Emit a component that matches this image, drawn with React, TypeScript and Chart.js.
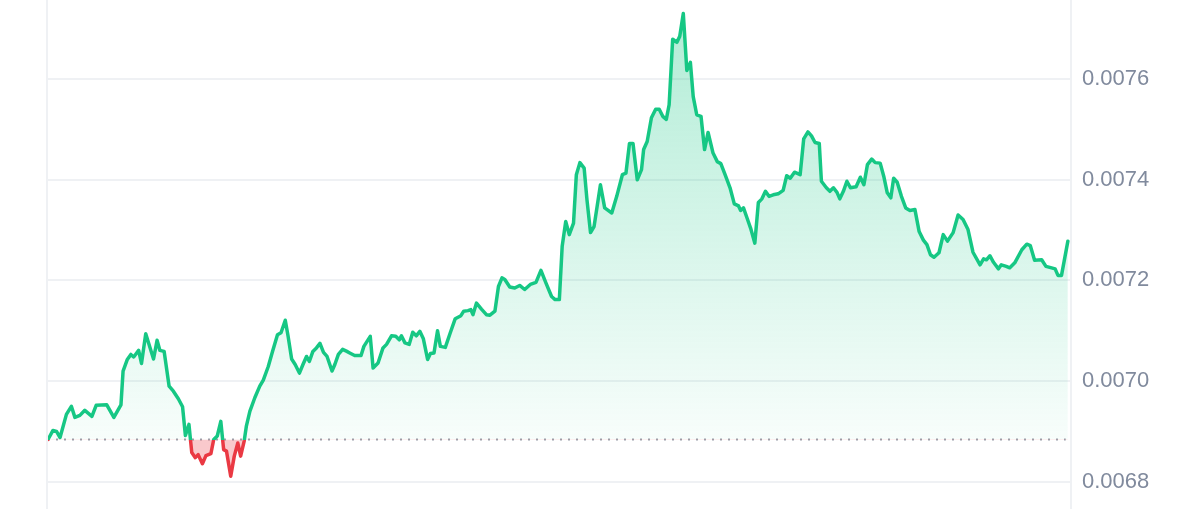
import React, { useEffect, useRef } from "react";
import { Chart, registerables } from "chart.js";

Chart.register(...registerables);

// time of day in minutes
const minutes = [0,7,12,17,26,33,38,45,52,62,68,83,93,103,106,112,117,121,128,132,138,149,154,158,164,171,177,184,190,194,199,203,208,212,218,223,230,234,239,244,248,252,258,263,268,272,277,280,285,292,299,304,311,317,324,329,335,339,344,349,355,360,365,369,374,379,384,389,394,401,405,410,416,422,426,433,442,446,455,459,466,473,478,485,491,496,499,504,510,515,520,525,530,536,540,545,550,554,561,568,575,583,587,593,597,600,605,612,619,624,631,636,641,645,652,659,666,673,681,689,696,703,711,716,722,726,731,736,742,746,751,757,761,766,771,780,786,796,803,811,816,821,826,832,838,841,846,852,858,863,868,873,877,882,888,892,897,902,907,911,916,922,927,932,939,945,950,956,963,969,975,978,982,987,992,998,1003,1008,1013,1018,1024,1031,1038,1043,1048,1054,1062,1067,1073,1078,1083,1089,1092,1099,1104,1109,1114,1118,1123,1128,1133,1141,1147,1152,1157,1163,1168,1175,1180,1185,1190,1194,1199,1205,1211,1217,1224,1230,1236,1241,1246,1251,1258,1264,1270,1278,1285,1292,1299,1306,1316,1321,1325,1330,1335,1342,1346,1353,1358,1365,1375,1382,1387,1393,1403,1409,1417,1422,1426,1431,1440];

const prices = [0.006884,0.006902,0.006900,0.006888,0.006934,0.006950,0.006928,0.006932,0.006942,0.006930,0.006952,0.006953,0.006928,0.006953,0.007020,0.007043,0.007053,0.007048,0.007061,0.007035,0.007094,0.007044,0.007081,0.007061,0.007059,0.006990,0.006980,0.006965,0.006949,0.006892,0.006914,0.006858,0.006848,0.006854,0.006836,0.006852,0.006856,0.006884,0.006891,0.006920,0.006864,0.006861,0.006811,0.006851,0.006877,0.006851,0.006881,0.006910,0.006940,0.006967,0.006990,0.007002,0.007029,0.007059,0.007092,0.007096,0.007121,0.007089,0.007044,0.007033,0.007016,0.007033,0.007049,0.007039,0.007059,0.007066,0.007075,0.007057,0.007049,0.007020,0.007033,0.007053,0.007063,0.007059,0.007056,0.007051,0.007051,0.007069,0.007089,0.007026,0.007036,0.007066,0.007073,0.007090,0.007089,0.007082,0.007090,0.007076,0.007073,0.007097,0.007090,0.007099,0.007084,0.007043,0.007055,0.007056,0.007100,0.007069,0.007067,0.007096,0.007124,0.007130,0.007139,0.007140,0.007142,0.007132,0.007155,0.007143,0.007132,0.007131,0.007139,0.007188,0.007205,0.007202,0.007187,0.007185,0.007190,0.007182,0.007192,0.007196,0.007220,0.007195,0.007168,0.007162,0.007162,0.007268,0.007317,0.007291,0.007314,0.007410,0.007434,0.007423,0.007360,0.007295,0.007307,0.007390,0.007344,0.007334,0.007367,0.007410,0.007413,0.007472,0.007472,0.007400,0.007420,0.007460,0.007476,0.007523,0.007540,0.007540,0.007526,0.007520,0.007549,0.007679,0.007673,0.007685,0.007730,0.007617,0.007633,0.007565,0.007529,0.007526,0.007460,0.007494,0.007453,0.007436,0.007432,0.007410,0.007384,0.007352,0.007348,0.007339,0.007344,0.007324,0.007304,0.007274,0.007355,0.007362,0.007377,0.007367,0.007370,0.007372,0.007379,0.007408,0.007403,0.007415,0.007410,0.007481,0.007495,0.007487,0.007474,0.007472,0.007397,0.007384,0.007377,0.007384,0.007375,0.007362,0.007377,0.007397,0.007384,0.007386,0.007405,0.007390,0.007430,0.007441,0.007434,0.007433,0.007407,0.007374,0.007364,0.007403,0.007395,0.007367,0.007344,0.007339,0.007341,0.007297,0.007280,0.007271,0.007251,0.007246,0.007255,0.007291,0.007278,0.007295,0.007330,0.007321,0.007301,0.007256,0.007231,0.007243,0.007241,0.007249,0.007236,0.007223,0.007231,0.007228,0.007225,0.007235,0.007261,0.007272,0.007269,0.007240,0.007241,0.007228,0.007225,0.007223,0.007210,0.007210,0.007278];

const yTicks = [0.0068, 0.007, 0.0072, 0.0074, 0.0076];
const baseline = prices[0];

const GREEN = "rgb(22,199,132)";
const RED = "rgb(234,57,67)";

function baseFrac(chart: any) {
  const { chartArea, scales } = chart;
  const yb = scales.y.getPixelForValue(baseline);
  return Math.min(1, Math.max(0, (yb - chartArea.top) / (chartArea.bottom - chartArea.top)));
}

const frame = {
  id: "frame",
  beforeDatasetsDraw(chart: any) {
    const { ctx, chartArea } = chart;
    ctx.save();
    ctx.strokeStyle = "#eff1f4";
    ctx.lineWidth = 2;
    ctx.beginPath();
    ctx.moveTo(chartArea.left - 1, 0);
    ctx.lineTo(chartArea.left - 1, chart.height);
    ctx.moveTo(chartArea.right + 1, 0);
    ctx.lineTo(chartArea.right + 1, chart.height);
    ctx.stroke();
    ctx.restore();
  },
};

export default function App() {
  const ref = useRef<HTMLCanvasElement>(null);
  useEffect(() => {
    if (!ref.current) return;
    const chart = new Chart(ref.current, {
      type: "line",
      data: {
        datasets: [
          {
            data: minutes.map((m, i) => ({ x: m, y: prices[i] })),
            borderWidth: 3.5,
            borderJoinStyle: "round",
            borderCapStyle: "round",
            pointRadius: 0,
            tension: 0,
            order: 0,
            borderColor: (c: any) => {
              const chart = c.chart;
              if (!chart.chartArea) return GREEN;
              const f = baseFrac(chart);
              const g = chart.ctx.createLinearGradient(0, chart.chartArea.top, 0, chart.chartArea.bottom);
              g.addColorStop(0, GREEN);
              g.addColorStop(f, GREEN);
              g.addColorStop(Math.min(1, f + 0.0001), RED);
              g.addColorStop(1, RED);
              return g;
            },
            backgroundColor: (c: any) => {
              const chart = c.chart;
              if (!chart.chartArea) return "rgba(22,199,132,0.15)";
              const yb = chart.scales.y.getPixelForValue(baseline);
              const g = chart.ctx.createLinearGradient(0, chart.chartArea.top, 0, yb);
              g.addColorStop(0, "rgba(22,199,132,0.34)");
              g.addColorStop(1, "rgba(22,199,132,0.03)");
              return g;
            },
            fill: { target: { value: baseline }, below: "rgba(234,57,67,0.27)" },
          } as any,
          {
            data: [
              { x: 0, y: baseline },
              { x: 1437, y: baseline },
            ],
            borderColor: "#9ea3ad",
            borderWidth: 2,
            borderDash: [2, 6],
            pointRadius: 0,
            fill: false,
            order: 1,
          },
        ],
      },
      options: {
        animation: false,
        responsive: true,
        maintainAspectRatio: false,
        layout: { padding: { left: 48, top: 0, bottom: 0, right: 0 } },
        plugins: { legend: { display: false }, tooltip: { enabled: false } },
        scales: {
          x: { type: "linear", min: 0, max: 1443, display: false },
          y: {
            position: "right",
            min: 0.006746,
            max: 0.007757,
            afterFit: (s: any) => {
              s.width = 130;
              s.paddingTop = 0;
              s.paddingBottom = 0;
            },
            afterBuildTicks: (s: any) => {
              s.ticks = yTicks.map((v) => ({ value: v }));
            },
            border: { display: false },
            grid: { color: "#eff1f4", lineWidth: 2, drawTicks: false },
            ticks: {
              padding: 12,
              color: "#808a9d",
              font: { family: "'Liberation Sans', Arial, sans-serif", size: 22 },
              callback: (v: any) => Number(v).toFixed(4),
            },
          },
        },
      },
      plugins: [frame],
    });
    return () => chart.destroy();
  }, []);
  return (
    <div style={{ position: "absolute", left: 0, top: 0, width: 1200, height: 509, background: "#fff" }}>
      <canvas ref={ref} />
    </div>
  );
}
